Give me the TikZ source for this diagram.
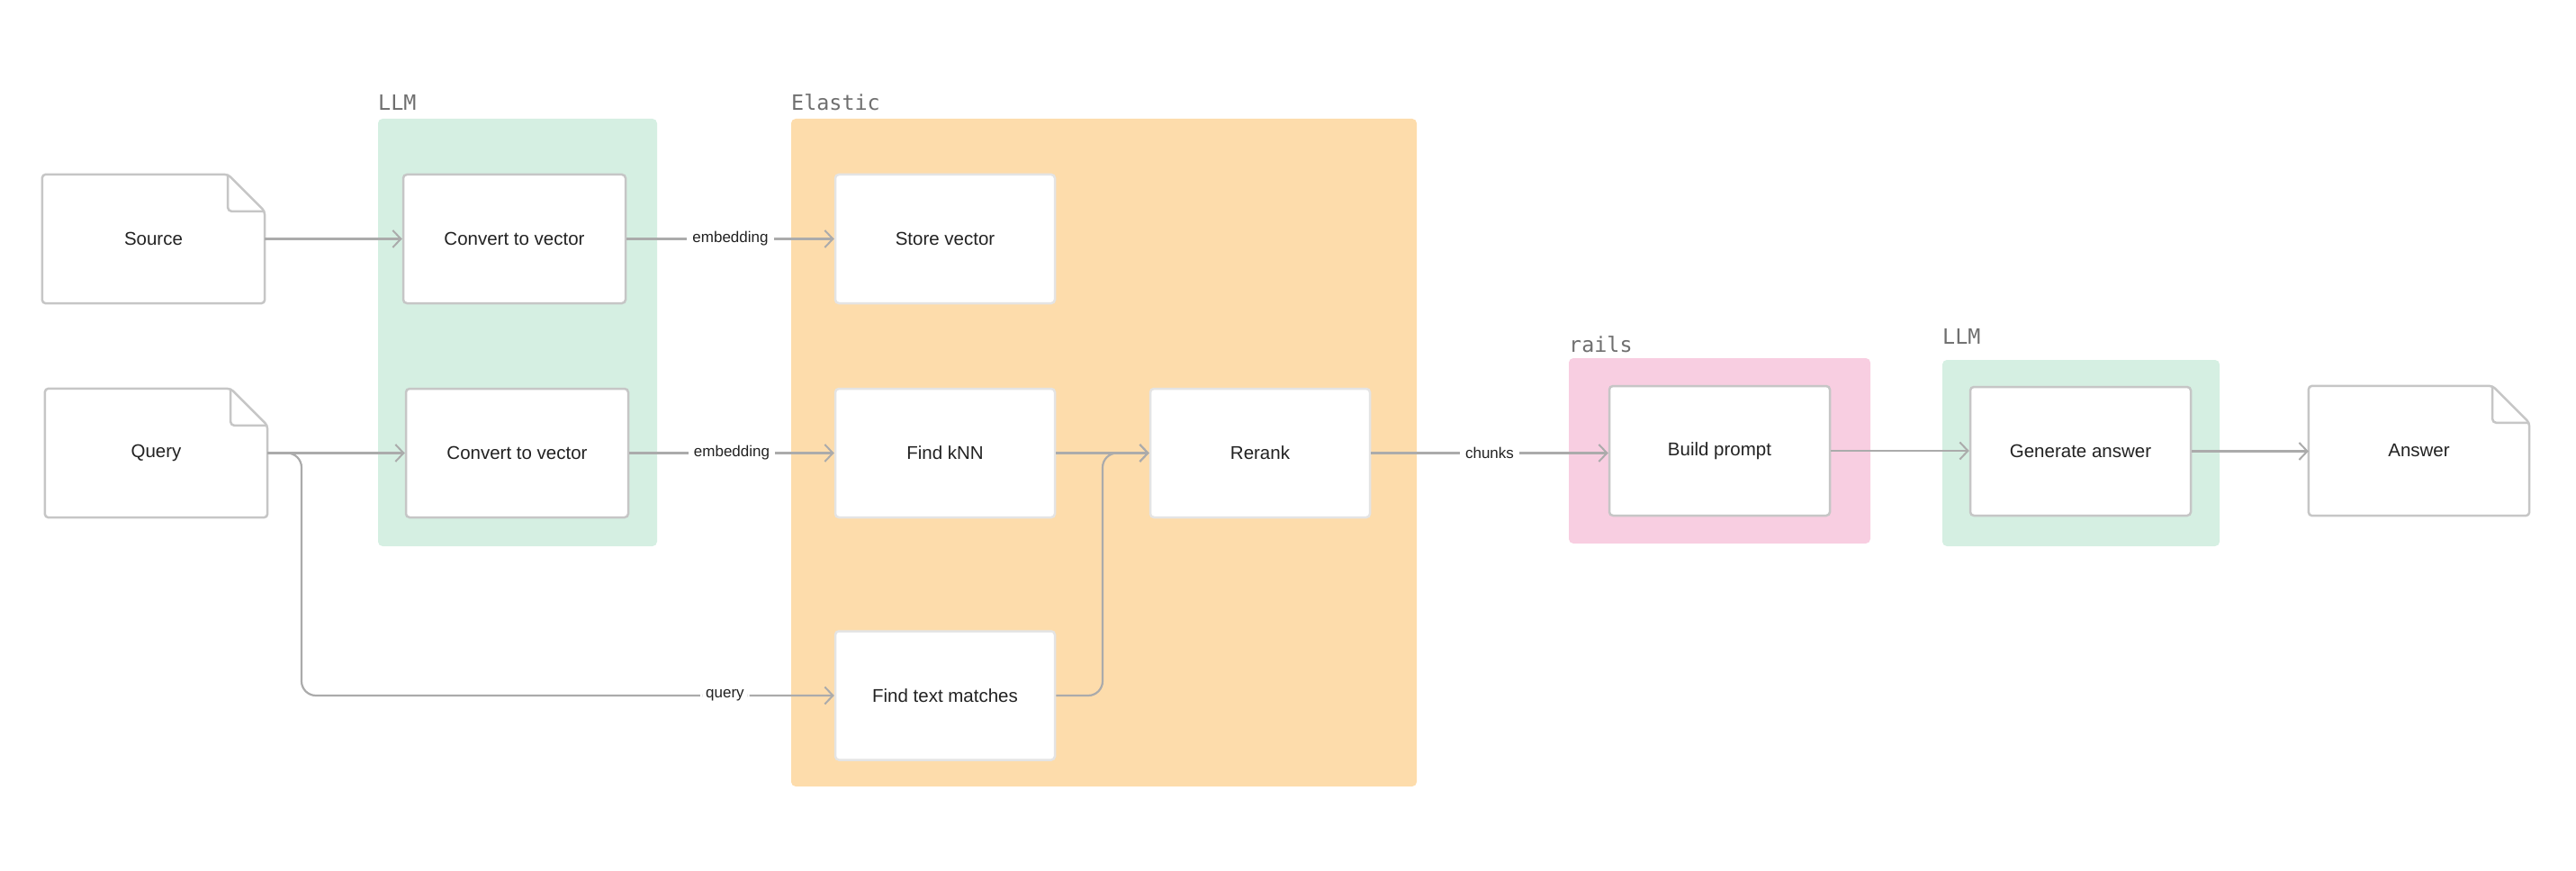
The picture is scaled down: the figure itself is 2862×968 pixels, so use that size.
\documentclass[tikz,border=0pt]{standalone}
\usepackage{fontspec}
\setmainfont{Liberation Sans}
\newfontfamily\grpmono{DejaVu Sans Mono}
\usetikzlibrary{arrows.meta,calc}
\definecolor{grpgreen}{HTML}{D5EFE2}
\definecolor{grporange}{HTML}{FDDCAB}
\definecolor{grppink}{HTML}{F8CEE1}
\definecolor{boxline}{HTML}{C6C6C6}
\definecolor{boxlight}{HTML}{E4E4E4}
\definecolor{arrowgray}{HTML}{ABABAB}
\definecolor{labelgray}{HTML}{6F6F6F}
\definecolor{textdark}{HTML}{222222}
\newcommand\boxfont{\fontsize{20.5}{24}\selectfont}
\newcommand\edgefont{\fontsize{17}{20}\selectfont}
\newcommand\grpfont{\grpmono\fontsize{23.4}{27}\selectfont}
\tikzset{
  grpbox/.style={draw=none, rounded corners=5pt, inner sep=0pt},
  grplabel/.style={font=\grpfont, text=labelgray, inner sep=0pt},
  stepbox/.style={draw=boxline, line width=2.5pt, fill=white, rounded corners=4pt,
    minimum width=247pt, minimum height=143pt, inner sep=0pt, font=\boxfont, text=textdark},
  lightbox/.style={stepbox, draw=boxlight, minimum width=244pt},
  docbox/.style={draw=none, minimum width=247pt, minimum height=143pt, inner sep=0pt,
    font=\boxfont, text=textdark},
  docline/.style={draw=boxline, line width=2.5pt, fill=white, rounded corners=4pt, line join=round},
  arr/.style={draw=arrowgray, line width=2.2pt, -{Straight Barb[length=9pt,width=19pt,line width=2pt]}},
  edgelab/.style={font=\edgefont, text=textdark, fill=white, inner xsep=6pt, inner ysep=2pt},
}
\newcommand\docshape[2]{%
  \path[docline] (#1.north west) -- ($(#1.north east)+(-#2pt,0pt)$)
    -- ($(#1.north east)+(0pt,-#2pt)$) -- (#1.south east) -- (#1.south west) -- cycle;
  \draw[docline, fill=none] ($(#1.north east)+(-#2pt,0pt)$) -- ($(#1.north east)+(-#2pt,-#2pt)$)
    -- ($(#1.north east)+(0pt,-#2pt)$);
  \node[docbox] at (#1.center) {\phantom{x}};
}
\begin{document}
\begin{tikzpicture}[x=1pt,y=-1pt]
\useasboundingbox (0,0) rectangle (2862,968);
% groups
\node[grpbox, fill=grpgreen, minimum width=310pt, minimum height=475pt] (llmA) at (575,369.5) {};
\node[grpbox, fill=grporange, minimum width=695pt, minimum height=742pt] (elastic) at (1226.5,503) {};
\node[grpbox, fill=grppink, minimum width=335pt, minimum height=206pt] (rails) at (1910.5,501) {};
\node[grpbox, fill=grpgreen, minimum width=308pt, minimum height=207pt] (llmB) at (2312,503.5) {};
\node[grplabel, anchor=base west] (llmAlab) at (420,123) {LLM};
\node[grplabel, anchor=base west] (elasticlab) at (879,123) {Elastic};
\node[grplabel, anchor=base west] (railslab) at (1743,391) {rails};
\node[grplabel, anchor=base west] (llmBlab) at (2158,382) {LLM};
% documents
\node[docbox] (src) at (170.5,265.5) {};
\docshape{src}{41}
\node[docbox] at (src.center) {Source};
\node[docbox] (qry) at (173.5,503.5) {};
\docshape{qry}{41}
\node[docbox] at (qry.center) {Query};
\node[docbox, minimum width=245pt, minimum height=144pt] (ans) at (2687.5,501) {};
\docshape{ans}{41}
\node[docbox] at (ans.center) {Answer};
% steps
\node[stepbox] (cvA) at (571.5,265.5) {Convert to vector};
\node[stepbox] (cvB) at (574.5,503.5) {Convert to vector};
\node[lightbox] (store) at (1050,265.5) {Store vector};
\node[lightbox] (knn) at (1050,503.5) {Find kNN};
\node[lightbox] (ftm) at (1050,773) {Find text matches};
\node[lightbox] (rerank) at (1400,503.5) {Rerank};
\node[stepbox, minimum width=245pt, minimum height=144pt] (build) at (1910.5,501) {Build prompt};
\node[stepbox, minimum width=245pt, minimum height=143pt] (gen) at (2311.5,501.5) {Generate answer};
% connectors
\coordinate (qturn) at (335,503.5);
\coordinate (mturn) at (1225,773);
\draw[arr] (src.east) -- (cvA.west);
\draw[arr] (qry.east) -- (cvB.west);
\draw[arr] (cvA.east) -- node[edgelab]{embedding} (store.west);
\draw[arr] (cvB.east) -- node[edgelab]{embedding} (knn.west);
\draw[arr, rounded corners=16pt] (qry.east) -- (qturn) -- (qturn |- ftm.west) -- node[edgelab, pos=0.795]{query} (ftm.west);
\draw[arr] (knn.east) -- (rerank.west);
\draw[arr, rounded corners=16pt] (ftm.east) -- (mturn) -- (mturn |- rerank.west) -- (rerank.west);
\draw[arr] (rerank.east) -- node[edgelab]{chunks} (rerank.east -| build.west);
\draw[arr] (build.east) -- (build.east -| gen.west);
\draw[arr] (gen.east) -- (gen.east -| ans.west);
\end{tikzpicture}
\end{document}
